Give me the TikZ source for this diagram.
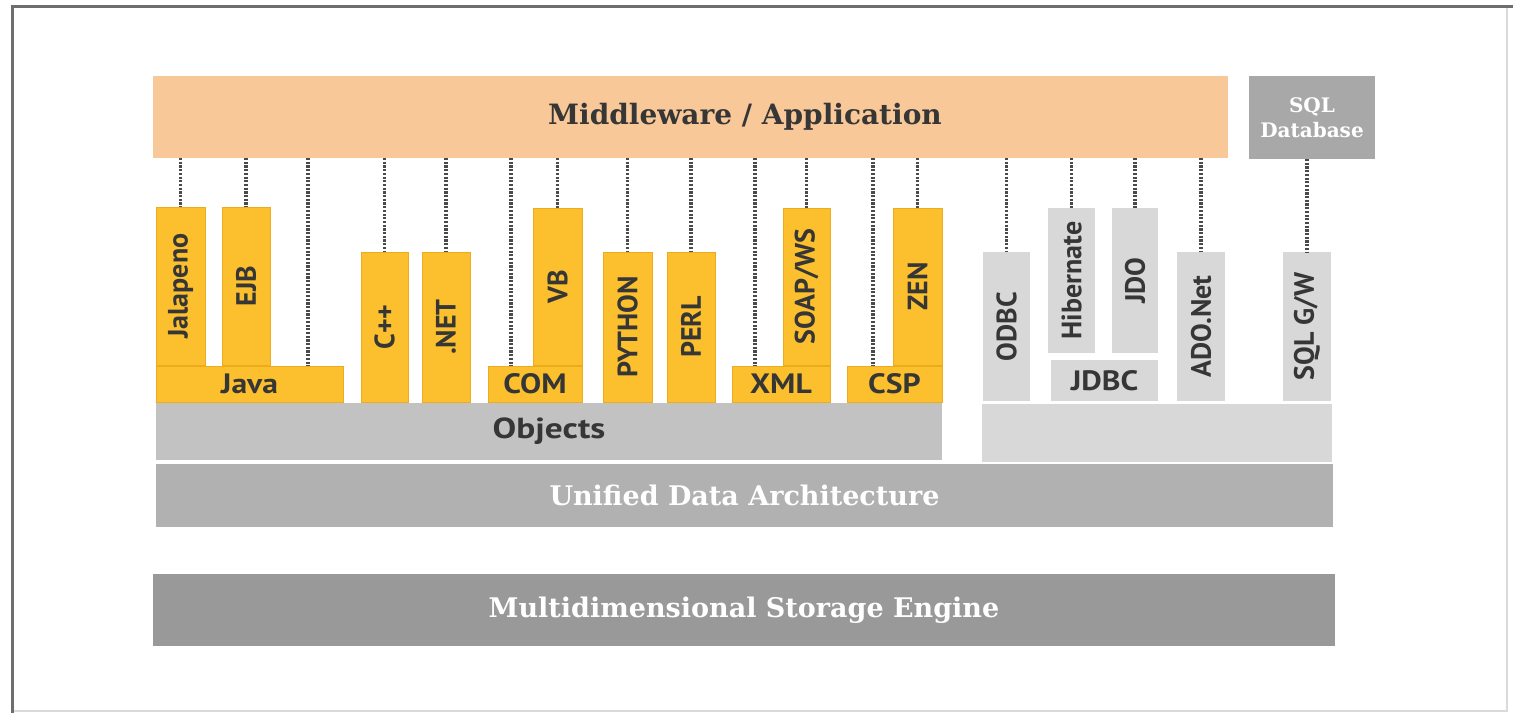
\documentclass[tikz,border=0pt]{standalone}
\usepackage{fontspec}
\setmainfont{DejaVu Serif}
\newfontfamily\labfont{PT Sans}
\usepackage{graphicx}
\newcommand\hlab[1]{\scalebox{1.13}[1]{#1}}
\definecolor{peach}{HTML}{F9C898}
\definecolor{yel}{HTML}{FCC02E}
\definecolor{yeledge}{HTML}{EDAC1E}
\definecolor{lgray}{HTML}{D8D8D8}
\definecolor{objgray}{HTML}{C2C2C2}
\definecolor{udagray}{HTML}{B1B1B1}
\definecolor{msegray}{HTML}{999999}
\definecolor{sqlgray}{HTML}{A8A8A8}
\definecolor{txt}{HTML}{363636}
\definecolor{dots}{HTML}{4A4A4A}
\definecolor{framedark}{HTML}{6E6E6E}
\definecolor{framelight}{HTML}{DADADA}
\begin{document}
\begin{tikzpicture}[x=1pt,y=-1pt,
  box/.style={rectangle, anchor=north west, inner sep=0pt, outer sep=0pt, text=txt,
    font=\labfont\bfseries\fontsize{28}{29}\selectfont},
  ybox/.style={box, fill=yel, draw=yeledge, line width=0.8pt},
  gbox/.style={box, fill=lgray},
  bar/.style={box, font=\bfseries\fontsize{27}{28}\selectfont, text=white},
  dotline/.style={draw=dots, line width=3.2pt, dash pattern=on 2.2pt off 1.5pt},
]
\useasboundingbox (0,0) rectangle (1513,713);
% frame
\draw[framelight, line width=1.2pt] (12,711) -- (1507,711) -- (1507,6);
\draw[framedark, line width=3pt] (1513,6) -- (12,6) -- (12,713);

% top layer
\node[box, fill=peach, minimum width=1075pt, minimum height=82pt] (mw) at (153,76) {};
\node[text=txt, font=\bfseries\fontsize{28}{29}\selectfont] (mwlabel) at (745,117) {Middleware / Application};
\node[box, fill=sqlgray, minimum width=126pt, minimum height=83pt, align=center, text=white,
  font=\bfseries\fontsize{20}{25}\selectfont] (sql) at (1249,76) {SQL\\Database};

% yellow column boxes
\node[ybox, minimum width=49pt, minimum height=158pt] (jal) at (156,207) {\rotatebox{90}{Jalapeno}};
\node[ybox, minimum width=48pt, minimum height=158pt] (ejb) at (222,207) {\rotatebox{90}{EJB}};
\node[ybox, minimum width=187pt, minimum height=36pt] (java) at (156,366) {\hlab{Java}};
\node[ybox, minimum width=47pt, minimum height=150pt] (cpp) at (361,252) {\rotatebox{90}{C++}};
\node[ybox, minimum width=48pt, minimum height=150pt] (net) at (422,252) {\rotatebox{90}{.NET}};
\node[ybox, minimum width=94pt, minimum height=36pt] (com) at (488,366) {\hlab{COM}};
\node[ybox, minimum width=49pt, minimum height=157pt] (vb) at (533,208) {\rotatebox{90}{VB}};
\node[ybox, minimum width=49pt, minimum height=150pt] (py) at (603,252) {\rotatebox{90}{PYTHON}};
\node[ybox, minimum width=48pt, minimum height=150pt] (perl) at (667,252) {\rotatebox{90}{PERL}};
\node[ybox, minimum width=98pt, minimum height=36pt] (xml) at (732,366) {\hlab{XML}};
\node[ybox, minimum width=47pt, minimum height=157pt] (soap) at (783,208) {\rotatebox{90}{SOAP/WS}};
\node[ybox, minimum width=95pt, minimum height=36pt] (csp) at (847,366) {\hlab{CSP}};
\node[ybox, minimum width=49pt, minimum height=157pt] (zen) at (893,208) {\rotatebox{90}{ZEN}};

% gray column boxes
\node[gbox, minimum width=47pt, minimum height=149pt] (odbc) at (983,252) {\rotatebox{90}{ODBC}};
\node[gbox, minimum width=47pt, minimum height=145pt] (hib) at (1048,208) {\rotatebox{90}{Hibernate}};
\node[gbox, minimum width=46pt, minimum height=145pt] (jdo) at (1112,208) {\rotatebox{90}{JDO}};
\node[gbox, minimum width=107pt, minimum height=41pt] (jdbc) at (1051,360) {\hlab{JDBC}};
\node[gbox, minimum width=48pt, minimum height=149pt] (ado) at (1177,252) {\rotatebox{90}{ADO.Net}};
\node[gbox, minimum width=48pt, minimum height=149pt] (sqlgw) at (1283,252) {\rotatebox{90}{SQL G/W}};

% horizontal layers
\node[box, fill=objgray, minimum width=786pt, minimum height=57pt,
  font=\labfont\bfseries\fontsize{29}{30}\selectfont] (obj) at (156,403) {\raisebox{-2pt}{\scalebox{1.22}[1]{Objects}}};
\node[box, fill=lgray, minimum width=350pt, minimum height=58pt] (right) at (982,404) {};
\node[bar, fill=udagray, minimum width=1177pt, minimum height=63pt] (uda) at (156,464) {Unified Data Architecture};
\node[bar, fill=msegray, minimum width=1182pt, minimum height=72pt] (mse) at (153,574) {Multidimensional Storage Engine};

% attach points on the horizontal yellow bars
\coordinate (javaT) at (308,366);
\coordinate (comT) at (511,366);
\coordinate (xmlT) at (755,366);
\coordinate (cspT) at (873,366);

% dotted connectors
\foreach \n in {jal,ejb,cpp,net,vb,py,perl,soap,zen,odbc,hib,jdo,ado}
  \draw[dotline] (mw.south -| \n.north) -- (\n.north);
\foreach \n in {javaT,comT,xmlT,cspT}
  \draw[dotline] (mw.south -| \n) -- (\n);
\draw[dotline] (sql.south -| sqlgw.north) -- (sqlgw.north);
\end{tikzpicture}
\end{document}
